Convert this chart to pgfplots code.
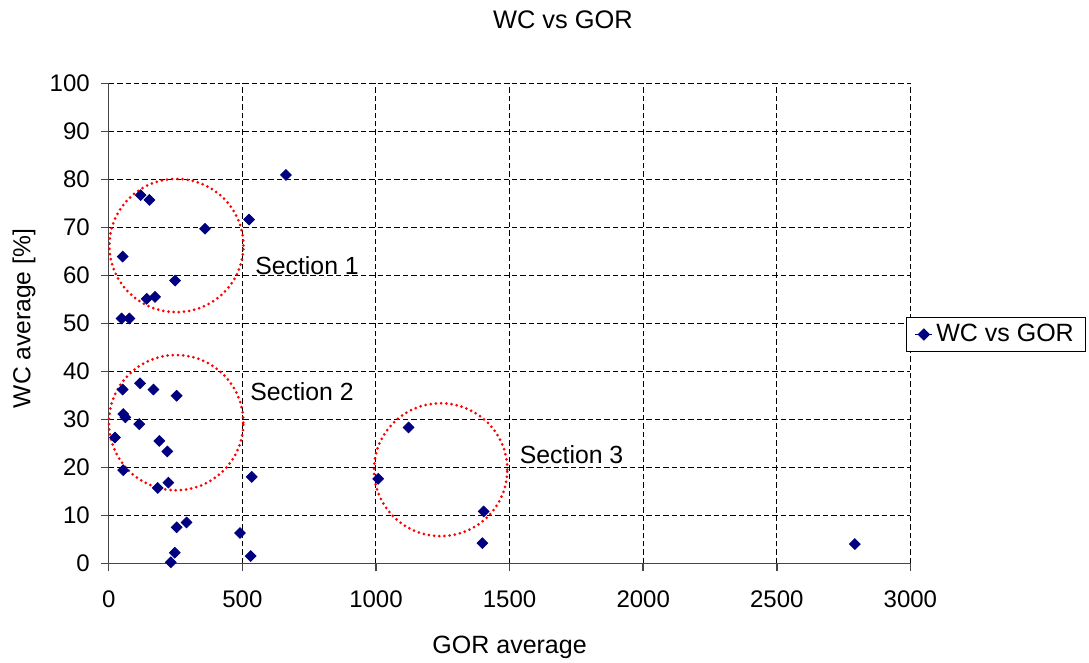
\documentclass[border=0pt]{standalone}
\usepackage{fontspec}
\setmainfont{Liberation Sans}
\usepackage{pgfplots}
\pgfplotsset{compat=1.18}

\definecolor{markblue}{RGB}{0,0,128}
\definecolor{axisgray}{RGB}{70,70,70}

\pgfplotstableread{
gor   wc
663   80.9
119   76.7
152   75.7
525   71.6
360   69.7
52    63.9
248   58.9
142   55.1
173   55.5
48    51.0
77    51.0
52    36.2
117   37.5
167   36.2
254   34.9
54    31.1
62    30.4
114   29.0
23    26.2
189   25.5
219   23.3
1122  28.3
54    19.4
535   18.0
1008  17.6
223   16.8
183   15.7
291   8.5
254   7.5
491   6.3
247   2.2
531   1.5
232   0.2
1403  10.8
1398  4.2
2792  4.0
}\wcgor

\begin{document}
\begin{tikzpicture}
\path[use as bounding box] (-54.4pt,-49.85pt) rectangle (490.1pt,281.65pt);
\begin{axis}[
  scale only axis,
  width=400.8pt, height=240pt,
  xmin=0, xmax=3000, ymin=0, ymax=100,
  xtick={0,500,...,3000}, ytick={0,10,...,100},
  axis x line*=bottom, axis y line*=left,
  axis line style={axisgray, line width=0.7pt},
  tick style={axisgray, line width=0.7pt},
  tick align=outside, major tick length=4pt,
  grid=major,
  grid style={black, line width=0.5pt, dash pattern=on 2.7pt off 1.5pt},
  font=\fontsize{12}{14.4}\selectfont,
  /pgf/number format/assume math mode=true,
  /pgf/number format/1000 sep={},
  xticklabel style={anchor=base, yshift=-18pt},
  yticklabel style={anchor=east, xshift=-2pt},
  title={\fontsize{12.7}{15}\selectfont WC vs GOR},
  every axis title shift=0pt,
  title style={at={(axis description cs:0.5666,1.1146)}, anchor=base},
  xlabel={\fontsize{12.5}{15}\selectfont GOR average},
  xlabel style={at={(axis description cs:0.5,0)}, anchor=base, yshift=-45pt},
  ylabel={\fontsize{12.3}{15}\selectfont WC average [\%]},
  ylabel style={at={(axis description cs:0,0.51)}, anchor=center, yshift=42.4pt},
  legend style={at={(axis description cs:0.9945,0.4767)}, anchor=west,
    draw=black, fill=white, line width=0.6pt,
    font=\fontsize{12.5}{15}\selectfont, inner xsep=4pt, inner ysep=1.3pt},
  legend image code/.code={%
    \path (0pt,0pt) -- (8.25pt,0pt);
    \draw plot coordinates {(4.35pt,0pt)};},
  clip=false,
]
\addplot[only marks, mark=square*, color=markblue,
  mark size=1.9pt, mark options={rotate=45}] table[x=gor, y=wc] {\wcgor};
\addlegendentry{WC vs GOR}

% dotted rings marking the three groups
\draw[red, line width=1.5pt, line cap=round, dash pattern=on 0pt off 2.6pt]
  (axis cs:253,66.2) ellipse [x radius=33.5pt, y radius=33.3pt];
\draw[red, line width=1.5pt, line cap=round, dash pattern=on 0pt off 2.6pt]
  (axis cs:252,29.3) ellipse [x radius=33.6pt, y radius=33.8pt];
\draw[red, line width=1.5pt, line cap=round, dash pattern=on 0pt off 2.6pt]
  (axis cs:1242,19.5) ellipse [x radius=33.3pt, y radius=33.2pt];

\begin{scope}[font=\fontsize{12.4}{15}\selectfont]
\node[anchor=base west, inner sep=0pt] at (axis cs:547,60.2) {Section 1};
\node[anchor=base west, inner sep=0pt] at (axis cs:528,33.9) {Section 2};
\node[anchor=base west, inner sep=0pt] at (axis cs:1537,20.7) {Section 3};
\end{scope}
\end{axis}
\end{tikzpicture}
\end{document}
